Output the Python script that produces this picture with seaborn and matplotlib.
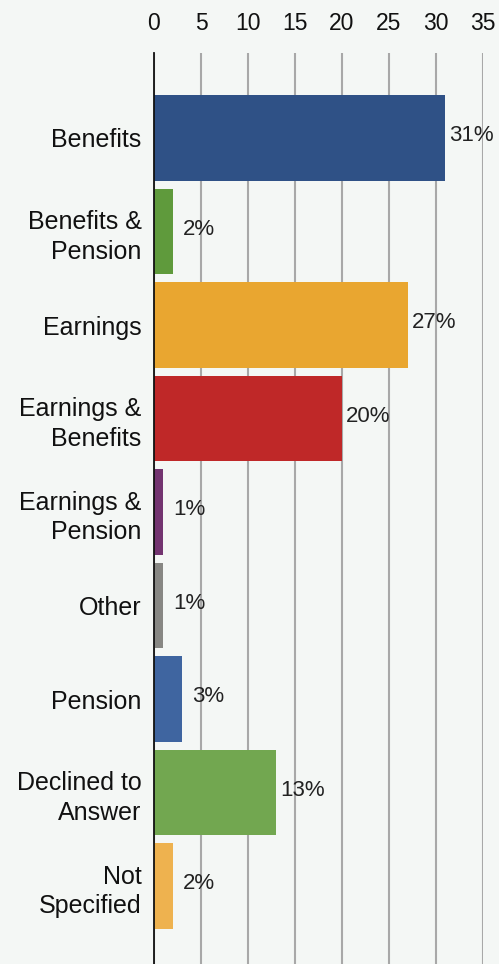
import matplotlib
matplotlib.use("Agg")
import matplotlib.pyplot as plt
import seaborn as sns
import pandas as pd

categories = ["Benefits", "Benefits &\nPension", "Earnings", "Earnings &\nBenefits",
              "Earnings &\nPension", "Other", "Pension", "Declined to\nAnswer", "Not\nSpecified"]
values = [31, 2, 27, 20, 1, 1, 3, 13, 2]
labels = ["31%", "2%", "27%", "20%", "1%", "1%", "3%", "13%", "2%"]
colors = ["#2f5186", "#5f9a3c", "#e9a630", "#bf2828", "#733470",
          "#878783", "#3f65a0", "#72a750", "#eeb24f"]
xticks = [0, 5, 10, 15, 20, 25, 30, 35]

bg = "#f4f7f5"
sns.set_theme(style="white")
plt.rcParams["font.family"] = ["Liberation Sans", "DejaVu Sans"]

df = pd.DataFrame({"cat": categories, "val": values})

fig = plt.figure(figsize=(4.99, 9.64), dpi=100, facecolor=bg)
ax = fig.add_axes([154/499, 0.0, (483-154)/499, 1 - 53/964])
ax.set_facecolor(bg)

sns.barplot(data=df, y="cat", x="val", hue="cat", palette=colors, legend=False,
            orient="h", width=0.91, ax=ax, saturation=1, zorder=3, linewidth=0)

ax.set_xlim(0, 35)
ax.set_ylim(8.834, -0.909)
ax.set_xticks(xticks)
ax.xaxis.tick_top()
ax.tick_params(axis="x", length=0, pad=13, labelsize=16.5, colors="#111111")
ax.tick_params(axis="y", length=0, pad=9, labelsize=18, colors="#111111")
for t in ax.get_yticklabels():
    t.set_multialignment("right")
    t.set_linespacing(1.3)
ax.set_xlabel("")
ax.set_ylabel("")
ax.xaxis.grid(True, color="#a8a8a8", linewidth=1.5, zorder=0)
ax.set_axisbelow(True)
for s in ["top", "right", "bottom"]:
    ax.spines[s].set_visible(False)
ax.spines["left"].set_color("#111111")
ax.spines["left"].set_linewidth(1.3)
ax.spines["left"].set_zorder(5)

for i, (v, lab) in enumerate(zip(values, labels)):
    ax.annotate(lab, xy=(v, i), xytext=(19, 1.5), textcoords="offset points",
                ha="center", va="center", fontsize=16, color="#222222", zorder=6)

fig.savefig("out.png", dpi=100, facecolor=bg)
